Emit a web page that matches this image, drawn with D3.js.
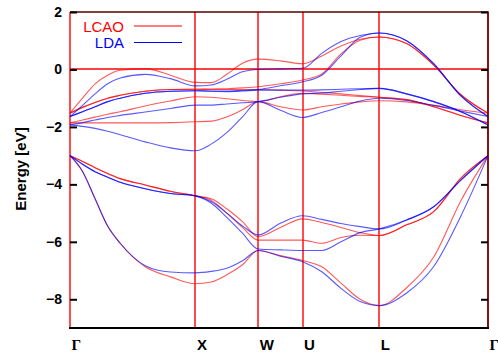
<!DOCTYPE html>
<html>
<head>
<meta charset="utf-8">
<script src="https://cdn.jsdelivr.net/npm/d3@7"></script>
<style>
body { margin: 0; background: #fff; }
svg { display: block; font-family: "Liberation Sans", Arial, sans-serif; }
</style>
</head>
<body>
<svg id="chart" width="498" height="353"></svg>
<script>
/*
    High-symmetry points along the k-path
*/
var kTicks = [0, 1, 1.5, 1.854, 2.466, 3.332];
var kLabels = ["Γ", "X", "W", "U", "L", "Γ"];
/*
    k values where the band energies were read
*/
var kGrid = [0, 0.1, 0.2, 0.3, 0.4, 0.6, 0.8, 1.0,
             1.125, 1.25, 1.375, 1.5,
             1.677, 1.854,
             2.007, 2.16, 2.313, 2.466,
             2.683, 2.899, 3.116, 3.332];
var yTicks = [2, 0, -2, -4, -6, -8];
/*
    LCAO bands (eV), one row per band
*/
var lcaoBands = [
    [-1.52, -1.0, -0.5, -0.2, -0.03, 0.03, -0.2, -0.45, -0.46, -0.17, 0.22, 0.36, 0.3, 0.2, 0.47, 0.82, 1.05, 1.13, 0.9, 0.15, -0.88, -1.52],
    [-1.52, -1.32, -1.15, -1.0, -0.9, -0.76, -0.7, -0.69, -0.68, -0.67, -0.64, -0.6, -0.5, -0.37, -0.16, 0.54, 1.02, 1.13, 0.9, 0.15, -0.88, -1.52],
    [-1.52, -1.32, -1.15, -1.0, -0.9, -0.76, -0.7, -0.69, -0.7, -0.7, -0.7, -0.7, -0.72, -0.75, -0.8, -0.85, -0.91, -0.97, -1.05, -1.3, -1.6, -1.86],
    [-1.86, -1.76, -1.66, -1.56, -1.47, -1.27, -1.1, -0.95, -0.97, -1.02, -1.08, -1.12, -0.95, -0.83, -0.86, -0.9, -0.94, -0.97, -1.05, -1.3, -1.6, -1.86],
    [-1.86, -1.86, -1.86, -1.86, -1.86, -1.86, -1.85, -1.82, -1.8, -1.65, -1.4, -1.12, -1.3, -1.41, -1.3, -1.2, -1.13, -1.09, -1.13, -1.25, -1.4, -1.52],
    [-3.0, -3.55, -4.5, -5.45, -6.05, -6.87, -7.22, -7.46, -7.4, -7.15, -6.8, -6.3, -6.48, -6.65, -6.87, -7.44, -8.0, -8.22, -7.6, -6.53, -4.57, -3.0],
    [-3.0, -3.2, -3.42, -3.62, -3.8, -4.02, -4.24, -4.4, -4.55, -5.0, -5.5, -5.94, -5.94, -5.94, -6.05, -5.85, -5.77, -5.78, -5.41, -4.95, -3.78, -3.0],
    [-3.0, -3.2, -3.42, -3.62, -3.8, -4.02, -4.24, -4.4, -4.5, -4.85, -5.3, -5.82, -5.5, -5.2, -5.33, -5.5, -5.68, -5.78, -5.41, -4.95, -3.78, -3.0]
];
/*
    LDA bands (eV), one row per band
*/
var ldaBands = [
    [-1.64, -1.25, -0.85, -0.5, -0.3, -0.17, -0.32, -0.57, -0.54, -0.34, -0.08, 0.0, 0.02, 0.04, 0.56, 0.97, 1.18, 1.27, 1.0, 0.2, -0.92, -1.64],
    [-1.64, -1.47, -1.3, -1.12, -1.0, -0.83, -0.76, -0.74, -0.75, -0.75, -0.73, -0.7, -0.57, -0.43, -0.2, 0.47, 1.12, 1.27, 1.0, 0.2, -0.92, -1.64],
    [-1.64, -1.47, -1.3, -1.12, -1.0, -0.83, -0.76, -0.74, -0.76, -0.77, -0.75, -0.72, -0.72, -0.72, -0.71, -0.69, -0.67, -0.66, -0.85, -1.12, -1.47, -1.93],
    [-1.93, -1.85, -1.76, -1.67, -1.6, -1.48, -1.36, -1.24, -1.24, -1.2, -1.16, -1.12, -0.97, -0.85, -0.82, -0.76, -0.7, -0.66, -0.85, -1.12, -1.47, -1.93],
    [-1.93, -1.98, -2.05, -2.15, -2.27, -2.52, -2.73, -2.83, -2.6, -2.2, -1.65, -1.12, -1.42, -1.67, -1.5, -1.3, -1.1, -1.0, -1.08, -1.25, -1.45, -1.64],
    [-3.0, -3.55, -4.5, -5.45, -6.05, -6.83, -7.05, -7.08, -7.03, -6.92, -6.66, -6.3, -6.5, -6.69, -7.04, -7.62, -8.08, -8.22, -7.78, -6.86, -5.1, -3.0],
    [-3.0, -3.3, -3.56, -3.75, -3.93, -4.15, -4.32, -4.4, -4.65, -5.15, -5.7, -6.25, -6.28, -6.3, -6.3, -6.0, -5.68, -5.55, -5.24, -4.78, -3.85, -3.0],
    [-3.0, -3.3, -3.56, -3.75, -3.93, -4.15, -4.32, -4.4, -4.6, -5.0, -5.45, -5.76, -5.35, -5.09, -5.22, -5.36, -5.47, -5.55, -5.24, -4.78, -3.85, -3.0]
];

var plotL = 70, plotR = 488, plotT = 12, plotB = 328;

var svg = d3.select("#chart");

var x = d3.scaleLinear().domain([0, 3.332]).range([plotL, plotR]);
var y = d3.scaleLinear().domain([-9, 2]).range([plotB, plotT]);

/*
    Zero line and vertical lines at the symmetry points
*/
svg.append("line")
    .attr("x1", plotL).attr("x2", plotR)
    .attr("y1", Math.round(y(0))).attr("y2", Math.round(y(0)))
    .style("stroke", "#ff0000").style("stroke-width", 1.4);

svg.append("g")
    .selectAll("line")
    .data(kTicks)
    .enter()
    .append("line")
    .attr("x1", function (d) { return Math.round(x(d)); })
    .attr("x2", function (d) { return Math.round(x(d)); })
    .attr("y1", plotT).attr("y2", plotB)
    .style("stroke", "#ff0000").style("stroke-width", 1.4);

/*
    Bands
*/
var line = d3.line()
    .x(function (d, i) { return x(kGrid[i]); })
    .y(function (d) { return y(d); })
    .curve(d3.curveMonotoneX);

function drawBands(bands, colour) {
    svg.append("g")
        .selectAll("path")
        .data(bands)
        .enter()
        .append("path")
        .attr("d", line)
        .style("fill", "none")
        .style("stroke", colour)
        .style("stroke-width", 1.1)
        .style("stroke-opacity", 0.65);
}
drawBands(lcaoBands, "#ff0000");
drawBands(ldaBands, "#0000ff");

/*
    Frame
*/
svg.append("path")
    .attr("d", "M" + plotR + "," + plotB + "V" + plotT + "H" + plotL)
    .style("fill", "none").style("stroke", "#5a0000").style("stroke-width", 1.5);
svg.append("line")
    .attr("x1", plotL - 1).attr("x2", plotR + 1)
    .attr("y1", plotB).attr("y2", plotB)
    .style("stroke", "#000").style("stroke-width", 2);

/*
    Axes
*/
var yAxis = d3.axisLeft(y).tickValues(yTicks).tickSize(-7).tickPadding(8);
var gy = svg.append("g")
    .attr("transform", "translate(" + plotL + ",0)")
    .call(yAxis);
gy.select(".domain").remove();
gy.selectAll("line").style("stroke", "#000").style("stroke-width", 2);
gy.selectAll("text")
    .style("font-size", "14px").style("font-weight", "bold")
    .style("font-family", "'Liberation Sans', Arial, sans-serif")
    .attr("fill", "#000");

var yAxisR = d3.axisRight(y).tickValues(yTicks).tickSize(-7).tickFormat("");
var gyr = svg.append("g")
    .attr("transform", "translate(" + plotR + ",0)")
    .call(yAxisR);
gyr.select(".domain").remove();
gyr.selectAll("line").style("stroke", "#000").style("stroke-width", 2);

var xAxis = d3.axisBottom(x).tickValues(kTicks)
    .tickFormat(function (d, i) { return kLabels[i]; })
    .tickSize(0);
var gx = svg.append("g")
    .attr("transform", "translate(0," + plotB + ")")
    .call(xAxis);
gx.select(".domain").remove();
gx.selectAll("text")
    .attr("y", 22).attr("dy", 0)
    .attr("text-anchor", "start")
    .attr("dx", 1)
    .attr("fill", "#000")
    .style("font-size", "15px").style("font-weight", "bold")
    .style("font-family", function (d, i) {
        return kLabels[i] == "Γ" ? "'Liberation Serif', serif" : "'Liberation Sans', Arial, sans-serif";
    });

svg.append("text")
    .attr("transform", "translate(26,169) rotate(-90)")
    .attr("text-anchor", "middle")
    .style("font-size", "15px")
    .style("font-weight", "bold")
    .text("Energy [eV]");

/*
    Legend
*/
var legend = [["LCAO", "#ff0000", 31.5], ["LDA", "#0000ff", 48]];
legend.forEach(function (d) {
    svg.append("text")
        .attr("x", 124).attr("y", d[2])
        .attr("text-anchor", "end")
        .attr("fill", d[1])
        .style("font-size", "15px")
        .text(d[0]);
    svg.append("line")
        .attr("x1", 134).attr("x2", 182)
        .attr("y1", d[2] - 5.5).attr("y2", d[2] - 5.5)
        .style("stroke", d[1]).style("stroke-width", 1.1);
});
</script>
</body>
</html>
